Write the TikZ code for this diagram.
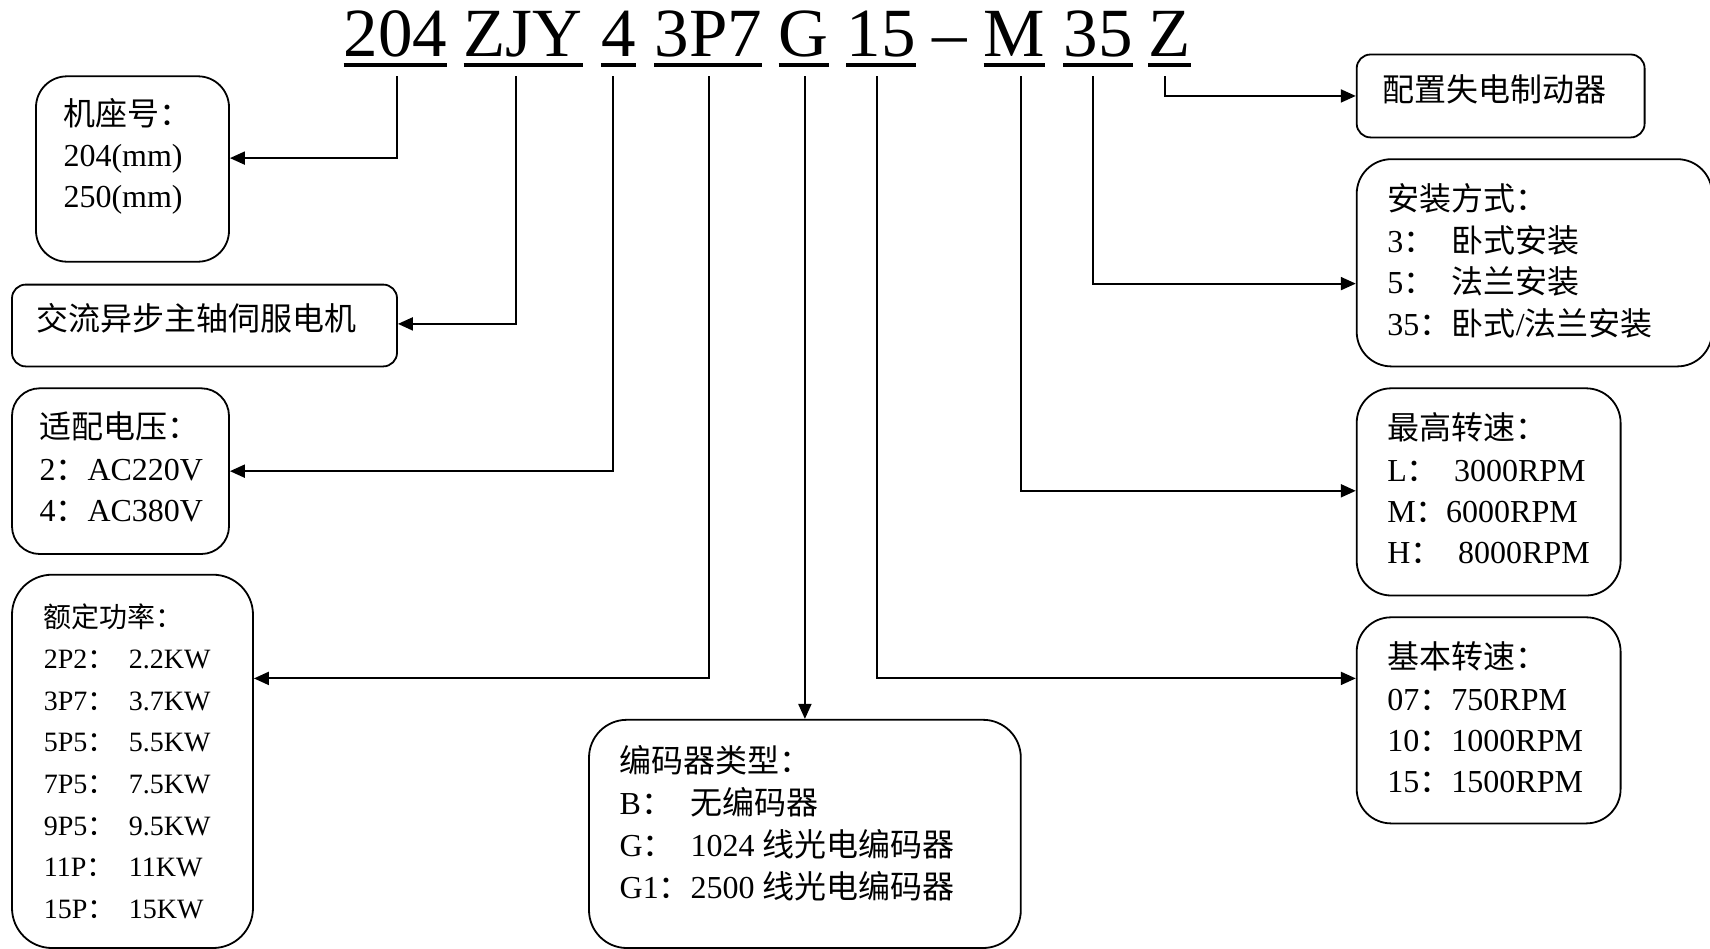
\documentclass[tikz,border=0pt]{standalone}
\usepackage{fontspec}
\setmainfont{Liberation Serif}
\newfontfamily\cjk{Noto Sans CJK SC}
\newcommand\zhtxt[1]{{\cjk #1}}
\usetikzlibrary{arrows.meta}
\begin{document}
\begin{tikzpicture}[x=1pt,y=-1pt,
  txt/.style={anchor=base west, inner sep=0pt, font=\fontsize{32}{38}\selectfont},
  smalltxt/.style={anchor=base west, inner sep=0pt, font=\fontsize{28}{34}\selectfont},
  ttl/.style={anchor=base west, inner sep=0pt, font=\fontsize{69}{80}\selectfont},
  ul/.style={line width=4pt},
  box/.style={draw, line width=1.8pt, inner sep=0pt},
  conn/.style={line width=2pt, -{Triangle[length=15pt,width=13pt]}}]
\useasboundingbox (0,0) rectangle (1710,948);
\fill[white] (0,0) rectangle (1710,948);

% title segments
\node[ttl] (t1) at (343.5,56.7) {204};
\node[ttl] (t2) at (463.5,56.7) {ZJY};
\node[ttl] (t3) at (600.9,56.7) {4};
\node[ttl] (t4) at (654.4,56.7) {3P7};
\node[ttl] (t5) at (778.7,56.7) {G};
\node[ttl] (t6) at (846.3,56.7) {15};
\node[ttl] (t7) at (932.5,56.7) {–};
\node[ttl] (t8) at (983.7,56.7) {M};
\node[ttl] (t9) at (1063.3,56.7) {35};
\node[ttl] (t10) at (1148.4,56.7) {Z};
\foreach \t in {t1,t2,t3,t4,t5,t6,t8,t9,t10}
  \draw[ul] ([yshift=-8.7pt]\t.base west) -- ([yshift=-8.7pt]\t.base east);

% boxes
\node[box, rounded corners=31pt, minimum width=193pt, minimum height=185.4pt] (b1) at (132.5,169) {};
\node[box, rounded corners=13.7pt, minimum width=385pt, minimum height=81.8pt] (b2) at (204.5,325.5) {};
\node[box, rounded corners=27.7pt, minimum width=217pt, minimum height=165.7pt] (b3) at (120.5,471.15) {};
\node[box, rounded corners=40pt, minimum width=241pt, minimum height=373.3pt] (b4) at (132.5,761.35) {};
\node[box, rounded corners=37.8pt, minimum width=431.8pt, minimum height=228.2pt] (b5) at (804.9,833.9) {};
\node[box, rounded corners=13.8pt, minimum width=287.9pt, minimum height=82.9pt] (b6) at (1500.65,95.95) {};
\node[box, rounded corners=34.6pt, minimum width=355.3pt, minimum height=207.2pt] (b7) at (1534.35,262.8) {};
\node[box, rounded corners=34.6pt, minimum width=263.9pt, minimum height=207.2pt] (b8) at (1488.65,491.9) {};
\node[box, rounded corners=34.4pt, minimum width=263.9pt, minimum height=206.1pt] (b9) at (1488.65,720.35) {};

% connector start points
\coordinate (v1) at (396.5,76);
\coordinate (v2) at (516,76);
\coordinate (v3) at (612.9,76);
\coordinate (v4) at (708.9,76);
\coordinate (v5) at (804.9,76);
\coordinate (v6) at (876.8,76);
\coordinate (v8) at (1020.8,76);
\coordinate (v9) at (1092.8,76);
\coordinate (v10) at (1164.8,76);

\draw[conn] (v1) |- ([yshift=10.9pt]b1.east);
\draw[conn] (v2) |- ([yshift=1.6pt]b2.east);
\draw[conn] (v3) |- (b3.east);
\draw[conn] (v4) |- ([yshift=82.95pt]b4.east);
\draw[conn] (v5) -- (b5.north);
\draw[conn] (v6) |- ([yshift=41.95pt]b9.west);
\draw[conn] (v8) |- ([yshift=1.1pt]b8.west);
\draw[conn] (v9) |- ([yshift=-20.8pt]b7.west);
\draw[conn] (v10) |- (b6.west);

% box 1
\node[txt] (l11) at (63.3,125) {\zhtxt{机座号：}};
\node[txt] (l12) at (63.3,166.4) {204(mm)};
\node[txt] (l13) at (63.3,207.8) {250(mm)};
% box 2
\node[txt] (l21) at (36,330) {\zhtxt{交流异步主轴伺服电机}};
% box 3
\node[txt] (l31) at (39.3,438.5) {\zhtxt{适配电压：}};
\node[txt] (l32) at (39.3,480) {2\zhtxt{：}AC220V};
\node[txt] (l33) at (39.3,521.4) {4\zhtxt{：}AC380V};
% box 4
\node[smalltxt] (l41) at (43.6,627) {\zhtxt{额定功率：}};
\node[smalltxt] (l42a) at (43.6,668.6) {2P2\zhtxt{：}};
\node[smalltxt] (l42b) at (128.7,668.6) {2.2KW};
\node[smalltxt] (l43a) at (43.6,710.2) {3P7\zhtxt{：}};
\node[smalltxt] (l43b) at (128.7,710.2) {3.7KW};
\node[smalltxt] (l44a) at (43.6,751.8) {5P5\zhtxt{：}};
\node[smalltxt] (l44b) at (128.7,751.8) {5.5KW};
\node[smalltxt] (l45a) at (43.6,793.4) {7P5\zhtxt{：}};
\node[smalltxt] (l45b) at (128.7,793.4) {7.5KW};
\node[smalltxt] (l46a) at (43.6,835) {9P5\zhtxt{：}};
\node[smalltxt] (l46b) at (128.7,835) {9.5KW};
\node[smalltxt] (l47a) at (43.6,876.6) {11P\zhtxt{：}};
\node[smalltxt] (l47b) at (128.7,876.6) {11KW};
\node[smalltxt] (l48a) at (43.6,918.2) {15P\zhtxt{：}};
\node[smalltxt] (l48b) at (128.7,918.2) {15KW};
% box 5
\node[txt] (l51) at (619.5,772) {\zhtxt{编码器类型：}};
\node[txt] (l52a) at (619.5,814) {B\zhtxt{：}};
\node[txt] (l52b) at (690.3,814) {\zhtxt{无编码器}};
\node[txt] (l53a) at (619.5,856) {G\zhtxt{：}};
\node[txt] (l53b) at (690.3,856) {1024 \zhtxt{线光电编码器}};
\node[txt] (l54a) at (619.5,898) {G1\zhtxt{：}};
\node[txt] (l54b) at (690.3,898) {2500 \zhtxt{线光电编码器}};
% box 6
\node[txt] (l61) at (1381.8,101.5) {\zhtxt{配置失电制动器}};
% box 7
\node[txt] (l71) at (1387.2,210.6) {\zhtxt{安装方式：}};
\node[txt] (l72a) at (1387.2,252) {3\zhtxt{：}};
\node[txt] (l72b) at (1451.6,252) {\zhtxt{卧式安装}};
\node[txt] (l73a) at (1387.2,293.5) {5\zhtxt{：}};
\node[txt] (l73b) at (1451.6,293.5) {\zhtxt{法兰安装}};
\node[txt] (l74a) at (1387.2,335) {35\zhtxt{：}};
\node[txt] (l74b) at (1451.6,335) {\zhtxt{卧式}/\zhtxt{法兰安装}};
% box 8
\node[txt] (l81) at (1387.2,439.6) {\zhtxt{最高转速：}};
\node[txt] (l82a) at (1387.2,481) {L\zhtxt{：}};
\node[txt] (l82b) at (1453.8,481) {3000RPM};
\node[txt] (l83a) at (1387.2,522.4) {M\zhtxt{：}};
\node[txt] (l83b) at (1446,522.4) {6000RPM};
\node[txt] (l84a) at (1387.2,563.8) {H\zhtxt{：}};
\node[txt] (l84b) at (1458,563.8) {8000RPM};
% box 9
\node[txt] (l91) at (1387.2,668.6) {\zhtxt{基本转速：}};
\node[txt] (l92) at (1387.2,710) {07\zhtxt{：}750RPM};
\node[txt] (l93) at (1387.2,751.4) {10\zhtxt{：}1000RPM};
\node[txt] (l94) at (1387.2,792.8) {15\zhtxt{：}1500RPM};
\end{tikzpicture}
\end{document}
